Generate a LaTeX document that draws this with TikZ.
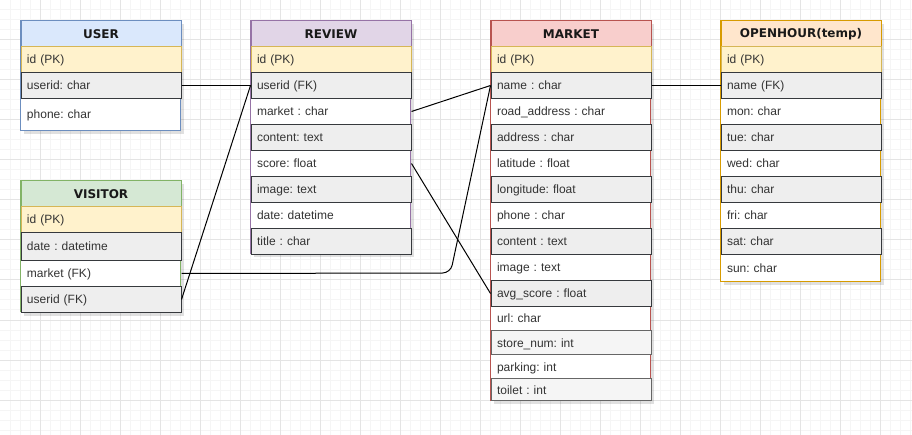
\documentclass[tikz,border=0pt]{standalone}
\usepackage{fontspec}
\setmainfont{Liberation Sans}
\newfontfamily\hdrfont{DejaVu Sans}
\frenchspacing
\definecolor{gminor}{HTML}{F5F5F5}
\definecolor{gmajor}{HTML}{E4E4E4}
\definecolor{pkfill}{HTML}{FFF2CC}
\definecolor{pkdraw}{HTML}{D6B656}
\definecolor{gfill}{HTML}{EEEEEE}
\definecolor{gdraw}{HTML}{36393D}
\definecolor{lfill}{HTML}{F5F5F5}
\definecolor{ldraw}{HTML}{666666}
\definecolor{txt}{HTML}{333333}
\definecolor{ufill}{HTML}{DAE8FC}
\definecolor{udraw}{HTML}{6C8EBF}
\definecolor{rfill}{HTML}{E1D5E7}
\definecolor{rdraw}{HTML}{9673A6}
\definecolor{mfill}{HTML}{F8CECC}
\definecolor{mdraw}{HTML}{B85450}
\definecolor{ofill}{HTML}{FFE6CC}
\definecolor{odraw}{HTML}{D79B00}
\definecolor{vfill}{HTML}{D5E8D4}
\definecolor{vdraw}{HTML}{82B366}
\begin{document}
\begin{tikzpicture}[x=1pt,y=-1pt,
  minorline/.style={draw=gminor,line width=1pt},
  majorline/.style={draw=gmajor,line width=1pt},
  tblshadow/.style={fill=black,opacity=0.12,draw=none},
  tblbody/.style={fill=white,line width=1pt},
  hdrbox/.style={anchor=north west,minimum width=160pt,minimum height=25.5pt,inner sep=0pt,
    font=\hdrfont\bfseries\fontsize{12}{14}\selectfont,text=black!90,line width=1pt},
  rowbox/.style={anchor=north west,minimum width=160pt,text width=148pt,inner xsep=6pt,inner ysep=0pt,
    align=left,font=\fontsize{12}{14}\selectfont,text=txt,line width=1pt,
    minimum height=26pt,text height=10.5pt,text depth=1.5pt},
  pkrow/.style={rowbox,fill=pkfill,draw=pkdraw},
  grayrow/.style={rowbox,fill=gfill,draw=gdraw},
  whiterow/.style={rowbox},
  litrow/.style={rowbox,fill=lfill,draw=ldraw},
  link/.style={draw=black,line width=1pt}]
\useasboundingbox (0,0) rectangle (912,435);
\fill[white] (0,0) rectangle (912,435);
% grid
\foreach \i in {10,20,...,910} \draw[minorline] (\i,0) -- (\i,435);
\foreach \j in {10,20,...,430} \draw[minorline] (0,\j) -- (912,\j);
\foreach \i in {40,80,...,880} \draw[majorline] (\i,0) -- (\i,435);
\foreach \j in {40,80,...,400} \draw[majorline] (0,\j) -- (912,\j);

% ================= USER
\fill[tblshadow] (23.5,24) rectangle (183.5,134);
\draw[tblbody,draw=udraw] (20.5,20.5) rectangle (180.5,130.5);
\node[hdrbox,fill=ufill,draw=udraw] (user) at (20.5,20.5) {USER};
\node[pkrow] (user-id) at (20.5,46) {id (PK)};
\node[grayrow] (user-userid) at (20.5,72) {userid: char};
\node[whiterow,minimum height=32pt] (user-phone) at (20.5,98) {phone: char};

% ================= VISITOR
\fill[tblshadow] (23.5,184) rectangle (183.5,315.5);
\draw[tblbody,draw=vdraw] (20.5,180.5) rectangle (180.5,312);
\node[hdrbox,fill=vfill,draw=vdraw] (visitor) at (20.5,180.5) {VISITOR};
\node[pkrow] (visitor-id) at (20.5,206) {id (PK)};
\node[grayrow,minimum height=28pt] (visitor-date) at (20.5,232) {date : datetime};
\node[whiterow] (visitor-market) at (20.5,260) {market (FK)};
\node[grayrow] (visitor-userid) at (20.5,286) {userid (FK)};

% ================= REVIEW
\fill[tblshadow] (253.5,24) rectangle (413.5,257.5);
\draw[tblbody,draw=rdraw] (250.5,20.5) rectangle (410.5,254);
\node[hdrbox,fill=rfill,draw=rdraw] (review) at (250.5,20.5) {REVIEW};
\node[pkrow] (review-id) at (250.5,46) {id (PK)};
\node[grayrow] (review-userid) at (250.5,72) {userid (FK)};
\node[whiterow] (review-market) at (250.5,98) {market : char};
\node[grayrow] (review-content) at (250.5,124) {content: text};
\node[whiterow] (review-score) at (250.5,150) {score: float};
\node[grayrow] (review-image) at (250.5,176) {image: text};
\node[whiterow] (review-date) at (250.5,202) {date: datetime};
\node[grayrow] (review-title) at (250.5,228) {title : char};

% ================= MARKET
\fill[tblshadow] (493.5,24) rectangle (653.5,403.5);
\draw[tblbody,draw=mdraw] (490.5,20.5) rectangle (650.5,400);
\node[hdrbox,fill=mfill,draw=mdraw] (market) at (490.5,20.5) {MARKET};
\node[pkrow] (market-id) at (490.5,46) {id (PK)};
\node[grayrow] (market-name) at (490.5,72) {name : char};
\node[whiterow] (market-road) at (490.5,98) {road\_address : char};
\node[grayrow] (market-address) at (490.5,124) {address : char};
\node[whiterow] (market-lat) at (490.5,150) {latitude : float};
\node[grayrow] (market-lon) at (490.5,176) {longitude: float};
\node[whiterow] (market-phone) at (490.5,202) {phone : char};
\node[grayrow] (market-content) at (490.5,228) {content : text};
\node[whiterow] (market-image) at (490.5,254) {image : text};
\node[grayrow] (market-avg) at (490.5,280) {avg\_score : float};
\node[whiterow,minimum height=24pt] (market-url) at (490.5,306) {url: char};
\node[litrow,minimum height=24pt] (market-store) at (490.5,330) {store\_num: int};
\node[whiterow,minimum height=24pt] (market-parking) at (490.5,354) {parking: int};
\node[litrow,minimum height=22pt] (market-toilet) at (490.5,378) {toilet : int};

% ================= OPENHOUR
\fill[tblshadow] (723.5,24) rectangle (883.5,285.5);
\draw[tblbody,draw=odraw] (720.5,20.5) rectangle (880.5,282);
\node[hdrbox,fill=ofill,draw=odraw] (open) at (720.5,20.5) {OPENHOUR(temp)};
\node[pkrow] (open-id) at (720.5,46) {id (PK)};
\node[grayrow] (open-name) at (720.5,72) {name (FK)};
\node[whiterow] (open-mon) at (720.5,98) {mon: char};
\node[grayrow] (open-tue) at (720.5,124) {tue: char};
\node[whiterow] (open-wed) at (720.5,150) {wed: char};
\node[grayrow] (open-thu) at (720.5,176) {thu: char};
\node[whiterow] (open-fri) at (720.5,202) {fri: char};
\node[grayrow] (open-sat) at (720.5,228) {sat: char};
\node[whiterow,minimum height=28pt] (open-sun) at (720.5,254) {sun: char};

% ================= connectors
\draw[link] (user-userid.east) -- (review-userid.west);
\draw[link] (visitor-userid.east) -- (review-userid.west);
\draw[link] (review-market.east) -- (market-name.west);
\draw[link] (review-score.east) -- (market-avg.west);
\coordinate (vbend) at (450.5,273);
\draw[link,rounded corners=8pt] (visitor-market.east) -- (vbend) -- (market-name.west);
\draw[link] (market-name.east) -- (open-name.west);
\end{tikzpicture}
\end{document}
